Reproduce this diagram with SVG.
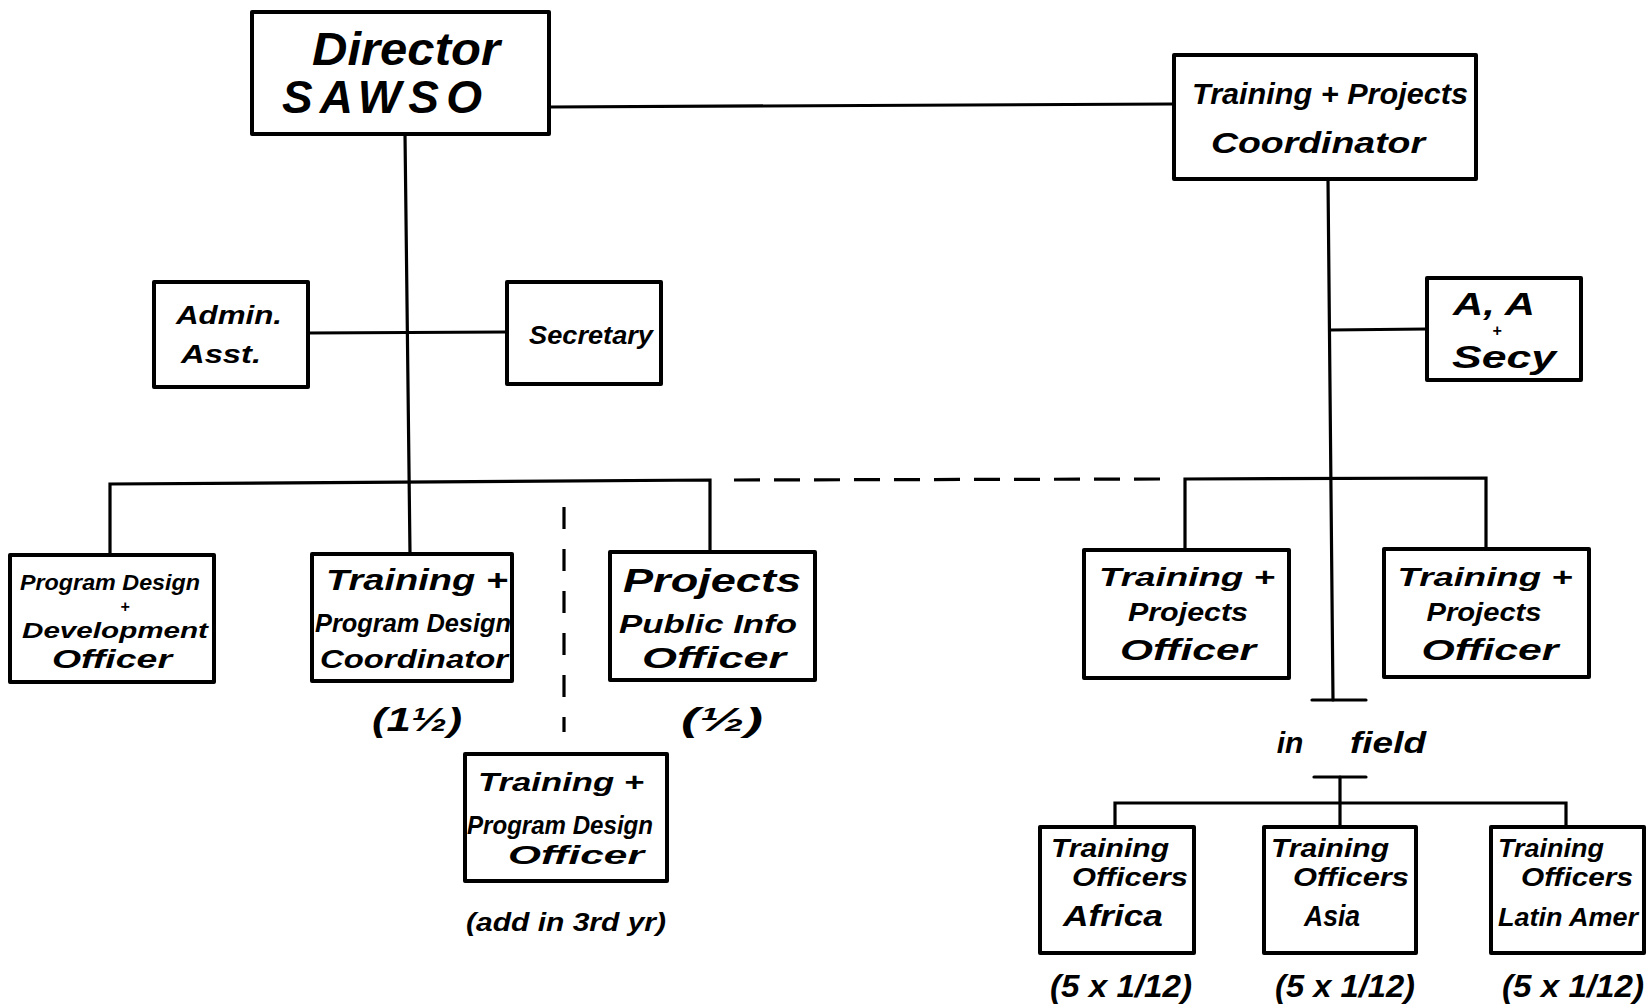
<svg xmlns="http://www.w3.org/2000/svg" width="1647" height="1008" viewBox="0 0 1647 1008">
<style>
.box{fill:#fff;stroke:#000;stroke-width:4;stroke-linejoin:round}
.ln{stroke:#000;stroke-width:3.2;fill:none;stroke-linecap:round}
.dash{stroke:#000;stroke-width:3.2;fill:none}
text{font-family:"Liberation Sans",Arial,sans-serif;font-style:italic;font-weight:bold;fill:#000;text-anchor:middle}
.big{font-size:46px}
.mid{font-size:30px}
.sm{font-size:26px}
.xs{font-size:22px}
.tiny{font-size:16px}
</style>
<rect width="1647" height="1008" fill="#fff"/>
<g id="connectors">
<line class="ln" x1="549" y1="107" x2="1174" y2="104"/>
<line class="ln" x1="405" y1="134" x2="410" y2="554"/>
<line class="ln" x1="308" y1="333" x2="507" y2="332"/>
<polyline class="ln" points="110,555 110,484 710,480 710,552"/>
<line class="dash" x1="734" y1="480" x2="1162" y2="479" stroke-dasharray="26 14"/>
<line class="dash" x1="564" y1="507" x2="564" y2="732" stroke-dasharray="22 20"/>
<polyline class="ln" points="1185,550 1185,479 1486,478 1486,549"/>
<line class="ln" x1="1328" y1="179" x2="1333" y2="700"/>
<line class="ln" x1="1330" y1="330" x2="1427" y2="329"/>
<line class="ln" x1="1312" y1="700" x2="1366" y2="700"/>
<line class="ln" x1="1314" y1="777" x2="1366" y2="777"/>
<line class="ln" x1="1340" y1="777" x2="1340" y2="827"/>
<polyline class="ln" points="1115,827 1115,803 1566,803 1566,827"/>
</g>
<g id="director">
<rect class="box" x="252" y="12" width="297" height="122"/>
<text class="big" x="406" y="65" textLength="188" lengthAdjust="spacingAndGlyphs">Director</text>
<text class="big" x="382" y="113" textLength="200" lengthAdjust="spacing">SAWSO</text>
</g>
<g id="tp-coordinator">
<rect class="box" x="1174" y="55" width="302" height="124"/>
<text class="mid" x="1330" y="104" textLength="276" lengthAdjust="spacingAndGlyphs">Training + Projects</text>
<text class="mid" x="1318" y="153" textLength="214" lengthAdjust="spacingAndGlyphs">Coordinator</text>
</g>
<g id="admin-asst">
<rect class="box" x="154" y="282" width="154" height="105"/>
<text class="sm" x="229" y="324" textLength="106" lengthAdjust="spacingAndGlyphs">Admin.</text>
<text class="sm" x="221" y="363" textLength="80" lengthAdjust="spacingAndGlyphs">Asst.</text>
</g>
<g id="secretary">
<rect class="box" x="507" y="282" width="154" height="102"/>
<text class="sm" x="591" y="344" textLength="124" lengthAdjust="spacingAndGlyphs">Secretary</text>
</g>
<g id="aa-secy">
<rect class="box" x="1427" y="278" width="154" height="102"/>
<text class="mid" x="1494" y="315" textLength="82" lengthAdjust="spacingAndGlyphs" style="font-size:32px">A, A</text>
<text class="tiny" x="1497" y="336">+</text>
<text class="mid" x="1504" y="368" textLength="104" lengthAdjust="spacingAndGlyphs" style="font-size:32px">Secy</text>
</g>
<g id="program-design-dev-officer">
<rect class="box" x="10" y="555" width="204" height="127"/>
<text class="xs" x="110" y="590" textLength="180" lengthAdjust="spacingAndGlyphs">Program Design</text>
<text class="tiny" x="125" y="612">+</text>
<text class="xs" x="115" y="638" textLength="186" lengthAdjust="spacingAndGlyphs">Development</text>
<text class="sm" x="112" y="668" textLength="120" lengthAdjust="spacingAndGlyphs">Officer</text>
</g>
<g id="training-program-design-coordinator">
<rect class="box" x="312" y="554" width="200" height="127"/>
<text class="mid" x="417" y="590" textLength="182" lengthAdjust="spacingAndGlyphs">Training +</text>
<text class="sm" x="413" y="632" textLength="196" lengthAdjust="spacingAndGlyphs">Program Design</text>
<text class="sm" x="414" y="668" textLength="188" lengthAdjust="spacingAndGlyphs">Coordinator</text>
<text class="mid" x="417" y="731" textLength="90" lengthAdjust="spacingAndGlyphs" style="font-size:34px">(1½)</text>
</g>
<g id="projects-public-info-officer">
<rect class="box" x="610" y="552" width="205" height="128"/>
<text class="mid" x="712" y="592" textLength="178" lengthAdjust="spacingAndGlyphs" style="font-size:34px">Projects</text>
<text class="sm" x="708" y="633" textLength="178" lengthAdjust="spacingAndGlyphs">Public Info</text>
<text class="mid" x="714" y="668" textLength="144" lengthAdjust="spacingAndGlyphs">Officer</text>
<text class="mid" x="722" y="731" textLength="82" lengthAdjust="spacingAndGlyphs" style="font-size:34px">(½)</text>
</g>
<g id="training-program-design-officer">
<rect class="box" x="465" y="754" width="202" height="127"/>
<text class="sm" x="561" y="791" textLength="166" lengthAdjust="spacingAndGlyphs">Training +</text>
<text class="sm" x="560" y="834" textLength="186" lengthAdjust="spacingAndGlyphs">Program Design</text>
<text class="sm" x="576" y="864" textLength="136" lengthAdjust="spacingAndGlyphs">Officer</text>
<text class="sm" x="566" y="931" textLength="200" lengthAdjust="spacingAndGlyphs">(add in 3rd yr)</text>
</g>
<g id="tp-officer-1">
<rect class="box" x="1084" y="550" width="205" height="128"/>
<text class="sm" x="1187" y="586" textLength="176" lengthAdjust="spacingAndGlyphs">Training +</text>
<text class="sm" x="1188" y="621" textLength="120" lengthAdjust="spacingAndGlyphs">Projects</text>
<text class="mid" x="1188" y="660" textLength="136" lengthAdjust="spacingAndGlyphs">Officer</text>
</g>
<g id="tp-officer-2">
<rect class="box" x="1384" y="549" width="205" height="128"/>
<text class="sm" x="1485" y="586" textLength="175" lengthAdjust="spacingAndGlyphs">Training +</text>
<text class="sm" x="1484" y="621" textLength="115" lengthAdjust="spacingAndGlyphs">Projects</text>
<text class="mid" x="1490" y="660" textLength="137" lengthAdjust="spacingAndGlyphs">Officer</text>
</g>
<g id="in-field">
<text class="mid" x="1290" y="753">in</text>
<text class="mid" x="1388" y="753" textLength="76" lengthAdjust="spacingAndGlyphs">field</text>
</g>
<g id="training-officers-africa">
<rect class="box" x="1040" y="827" width="154" height="126"/>
<text class="sm" x="1110" y="857" textLength="118" lengthAdjust="spacingAndGlyphs">Training</text>
<text class="sm" x="1130" y="886" textLength="116" lengthAdjust="spacingAndGlyphs">Officers</text>
<text class="mid" x="1113" y="926" textLength="100" lengthAdjust="spacingAndGlyphs">Africa</text>
<text class="mid" x="1121" y="997" textLength="142" lengthAdjust="spacingAndGlyphs" style="font-size:32px">(5 x 1/12)</text>
</g>
<g id="training-officers-asia">
<rect class="box" x="1264" y="827" width="152" height="126"/>
<text class="sm" x="1330" y="857" textLength="118" lengthAdjust="spacingAndGlyphs">Training</text>
<text class="sm" x="1351" y="886" textLength="116" lengthAdjust="spacingAndGlyphs">Officers</text>
<text class="mid" x="1332" y="926" textLength="56" lengthAdjust="spacingAndGlyphs">Asia</text>
<text class="mid" x="1345" y="997" textLength="140" lengthAdjust="spacingAndGlyphs" style="font-size:32px">(5 x 1/12)</text>
</g>
<g id="training-officers-latin-amer">
<rect class="box" x="1491" y="827" width="153" height="126"/>
<text class="sm" x="1551" y="857" textLength="106" lengthAdjust="spacingAndGlyphs">Training</text>
<text class="sm" x="1577" y="886" textLength="112" lengthAdjust="spacingAndGlyphs">Officers</text>
<text class="sm" x="1568" y="926" textLength="140" lengthAdjust="spacingAndGlyphs">Latin Amer</text>
<text class="mid" x="1573" y="997" textLength="142" lengthAdjust="spacingAndGlyphs" style="font-size:32px">(5 x 1/12)</text>
</g>
</svg>
